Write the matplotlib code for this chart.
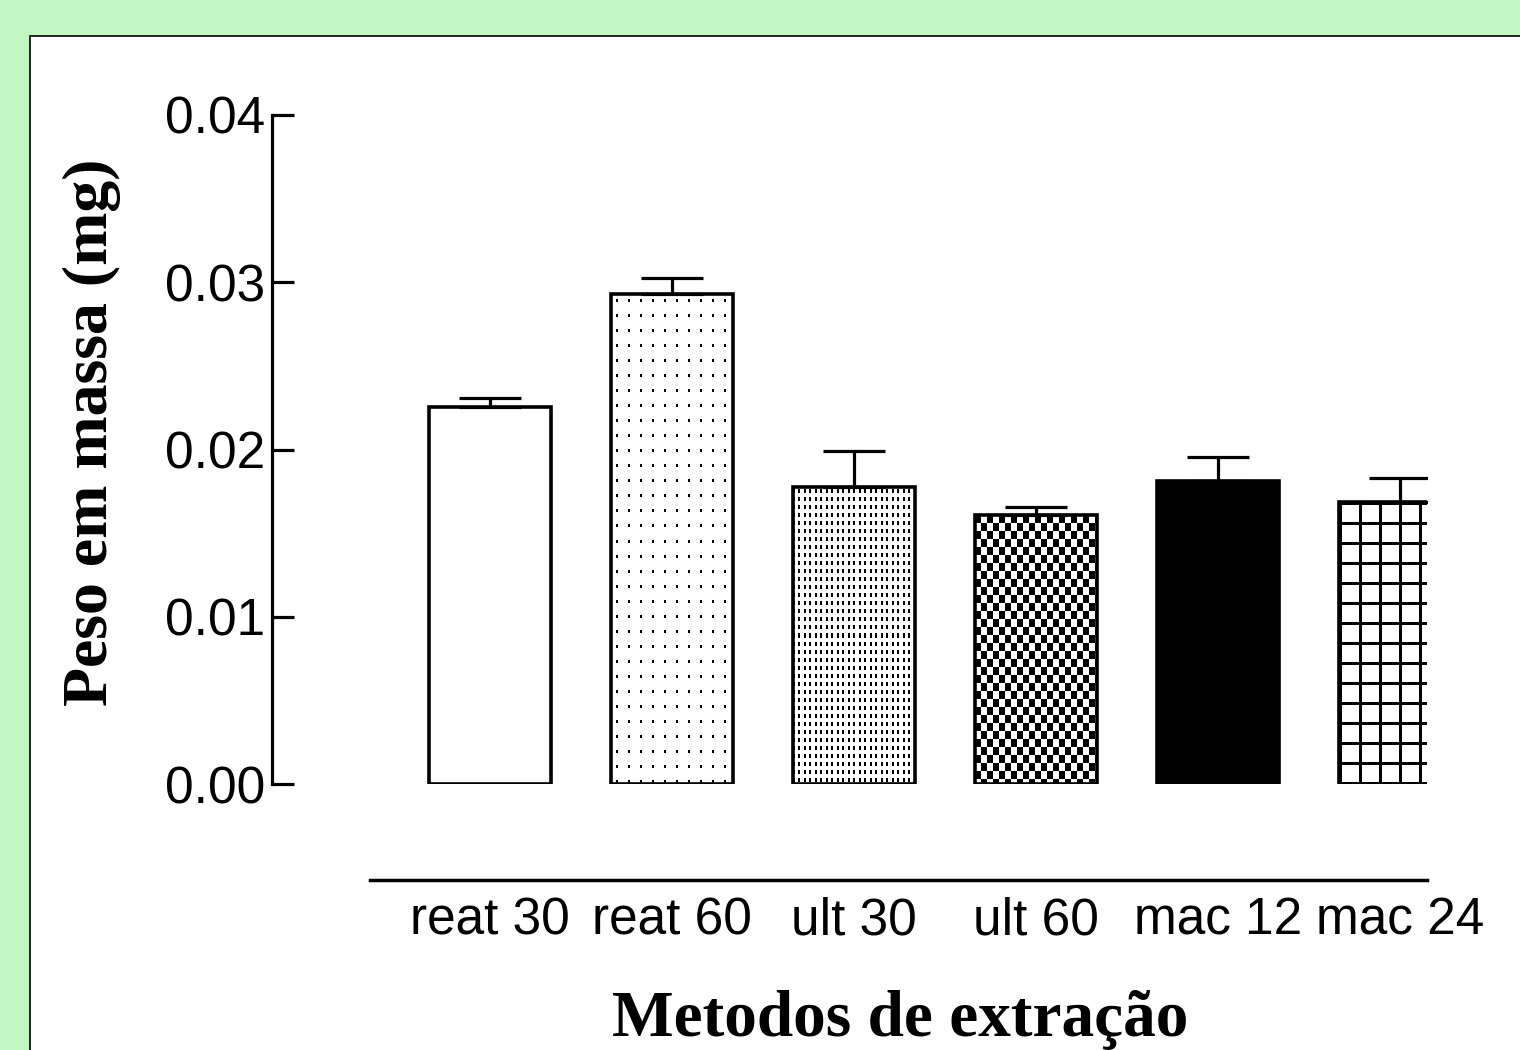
import numpy as np
import matplotlib
matplotlib.use('Agg')
import matplotlib.pyplot as plt
from matplotlib.patches import Rectangle

# ---- data ----
categories = ['reat 30', 'reat 60', 'ult 30', 'ult 60', 'mac 12', 'mac 24']
means = [0.02254, 0.0293, 0.01776, 0.01608, 0.01812, 0.01686]
errors = [0.00054, 0.00095, 0.00215, 0.00048, 0.00143, 0.00144]
yticks = [0.00, 0.01, 0.02, 0.03, 0.04]
ytick_labels = ['0.00', '0.01', '0.02', '0.03', '0.04']
patterns = ['none', 'dots_sparse', 'dots_dense', 'checker', 'solid', 'grid']
xlabel = 'Metodos de extração'
ylabel = 'Peso em massa (mg)'

W, H = 1520, 1050
fig = plt.figure(figsize=(W / 100, H / 100), dpi=100)
fig.patch.set_facecolor('#C3F7C1')
panel = Rectangle((30 / W, -0.05), 1.05, 1 - 36 / H + 0.05, transform=fig.transFigure,
                  facecolor='white', edgecolor='black', lw=1.2, zorder=-10)
fig.patches.append(panel)

ax = fig.add_axes([272 / W, 1 - 784 / H, (1427 - 272) / W, (784 - 115) / H])
ax.set_facecolor('none')
ax.set_zorder(5)

x = np.arange(len(categories))
bw = 0.67
xl = (-1.198, 5.148)
ax.set_xlim(*xl)
ax.set_ylim(0, 0.04)

faces = ['black' if p == 'solid' else 'white' for p in patterns]
bars = ax.bar(x, means, width=bw, color=faces, edgecolor='none', linewidth=0, zorder=2)
ax.bar(x, means, width=bw, fill=False, edgecolor='black', linewidth=2.6, zorder=3)


def pattern_mask(kind, h, w):
    r = np.arange(h)[:, None]
    c = np.arange(w)[None, :]
    if kind == 'dots_sparse':
        return ((c % 12) >= 5) & ((c % 12) <= 6) & ((r % 15) >= 6) & ((r % 15) <= 8)
    if kind == 'dots_dense':
        cc = c % 11
        colm = (cc <= 1) | ((cc >= 5) & (cc <= 6))
        return colm & ((r % 8) >= 3) & ((r % 8) <= 6)
    if kind == 'checker':
        return ((c // 6) + (r // 8)) % 2 == 0
    if kind == 'grid':
        return ((c % 20) < 3) | ((r % 20) < 3)
    return None


for xi, m, kind, bar in zip(x, means, patterns, bars):
    x0, x1 = xi - bw / 2, xi + bw / 2
    p0 = ax.transData.transform((x0, 0))
    p1 = ax.transData.transform((x1, m))
    w = int(round(p1[0] - p0[0]))
    h = int(round(p1[1] - p0[1]))
    mask = pattern_mask(kind, h, w)
    if mask is None:
        continue
    img = np.zeros((h, w, 4))
    img[mask, 3] = 1.0
    im = ax.imshow(img, extent=(x0, x1, 0, m), origin='upper', interpolation='nearest',
                   aspect='auto', zorder=2.5)
    im.set_clip_path(bar.get_path(), bar.get_transform())

ax.errorbar(x, means, yerr=[np.zeros(len(x)), errors], fmt='none', ecolor='black',
            elinewidth=2.3, capsize=22, capthick=2.3, zorder=4)

ax.set_xlim(*xl)
ax.set_ylim(0, 0.04)

for s in ['top', 'right']:
    ax.spines[s].set_visible(False)
ax.spines['left'].set_linewidth(2.3)
ax.spines['bottom'].set_linewidth(2.5)
ax.spines['bottom'].set_position(('outward', 96 * 72 / 100))
ax.spines['bottom'].set_bounds(-0.659, xl[1])

ax.set_yticks(yticks)
ax.set_yticklabels(ytick_labels, fontfamily='Liberation Sans', fontsize=37)
ax.set_xticks(x)
ax.set_xticklabels(categories, fontfamily='Liberation Sans', fontsize=37)
ax.tick_params(axis='y', direction='in', length=16, width=2.3, pad=5)
ax.tick_params(axis='x', length=0, pad=12)

fig.text(900 / W, 1 - 1036 / H, xlabel, fontfamily='Liberation Serif', fontweight='bold',
         fontsize=47, ha='center', va='baseline')
fig.text(107 / W, 1 - 432 / H, ylabel, fontfamily='Liberation Serif', fontweight='bold',
         fontsize=46, ha='center', va='baseline', rotation=90, rotation_mode='anchor')

fig.savefig('out.png', dpi=100, facecolor=fig.get_facecolor())
